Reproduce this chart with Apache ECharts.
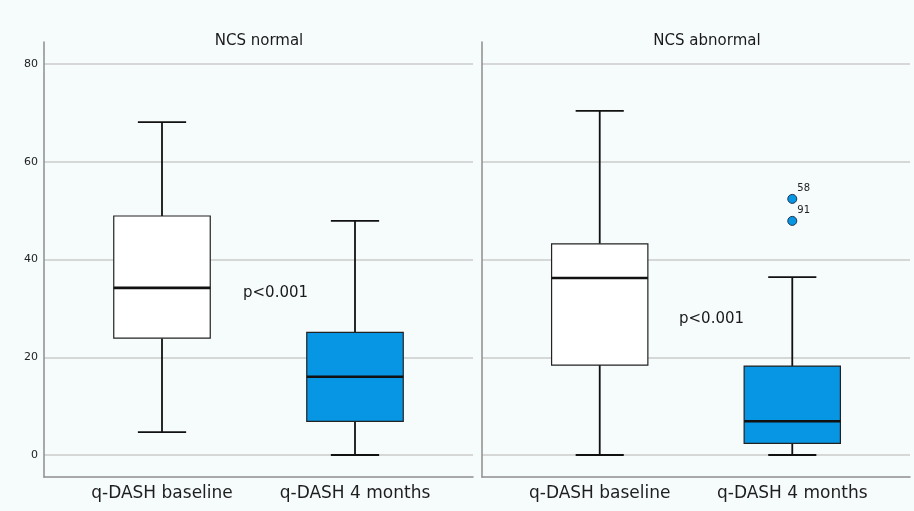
<!DOCTYPE html>
<html>
<head>
<meta charset="utf-8">
<script src="https://cdn.jsdelivr.net/npm/echarts@6/dist/echarts.min.js"></script>
<style>
html,body{margin:0;padding:0;background:#f6fbfc;}
#c{width:914px;height:511px;}
</style>
</head>
<body>
<div id="c"></div>
<script>
// ---- data ----
const categories = ['q-DASH baseline', 'q-DASH 4 months'];
const panelTitles = ['NCS normal', 'NCS abnormal'];
const yTicks = [0, 20, 40, 60, 80];
// [min, Q1, median, Q3, max]
const normalBaseline = [4.7, 23.9, 34.2, 48.9, 68.1];
const normal4Months = [0, 6.9, 16.0, 25.1, 47.9];
const abnormalBaseline = [0, 18.4, 36.2, 43.2, 70.4];
const abnormal4Months = [0, 2.4, 6.9, 18.2, 36.4];
// outliers in NCS abnormal, q-DASH 4 months: [value, case label]
const outlierValues = [52.4, 47.9];
const outlierLabels = ['58', '91'];
const pValueText = ['p<0.001', 'p<0.001'];

// ---- styles ----
const boxFills = ['#ffffff', '#0796e3'];
const fontFam = 'DejaVu Sans';

function boxRows(a, b) {
  return [[0].concat(a), [1].concat(b)];
}

function renderBox(params, api) {
  const x = api.value(0);
  const mn = api.value(1), q1 = api.value(2), md = api.value(3), q3 = api.value(4), mx = api.value(5);
  const c = p => api.coord([x, p]);
  const halfBox = api.size([0.5, 0])[0] / 2;
  const halfCap = halfBox / 2;
  const pMin = c(mn), pQ1 = c(q1), pMd = c(md), pQ3 = c(q3), pMx = c(mx);
  const cx = pMd[0];
  const lineStyle = { stroke: '#111', lineWidth: 1.8 };
  const fill = boxFills[params.dataIndex];
  return {
    type: 'group',
    children: [
      { type: 'line', shape: { x1: cx, y1: pQ3[1], x2: cx, y2: pMx[1] }, style: lineStyle },
      { type: 'line', shape: { x1: cx, y1: pQ1[1], x2: cx, y2: pMin[1] }, style: lineStyle },
      { type: 'line', shape: { x1: cx - halfCap, y1: pMx[1], x2: cx + halfCap, y2: pMx[1] }, style: lineStyle },
      { type: 'line', shape: { x1: cx - halfCap, y1: pMin[1], x2: cx + halfCap, y2: pMin[1] }, style: lineStyle },
      { type: 'rect', shape: { x: cx - halfBox, y: pQ3[1], width: halfBox * 2, height: pQ1[1] - pQ3[1] },
        style: { fill: fill, stroke: '#222', lineWidth: 1.2 } },
      { type: 'line', shape: { x1: cx - halfBox, y1: pMd[1], x2: cx + halfBox, y2: pMd[1] },
        style: { stroke: '#111', lineWidth: 2.6 } }
    ]
  };
}

const chart = echarts.init(document.getElementById('c'), null, { renderer: 'canvas' });

const grids = [
  { left: 44, top: 42, width: 429, height: 435 },
  { left: 482, top: 42, width: 428, height: 435 }
];

function makeX(i) {
  return {
    type: 'value', gridIndex: i, min: -0.6114, max: 1.6114,
    axisLine: { show: true, onZero: false, lineStyle: { color: '#8e8e8e', width: 1.5 } },
    axisTick: { show: false },
    splitLine: { show: false },
    axisLabel: {
      customValues: [0, 1],
      formatter: v => categories[Math.round(v)] || '',
      margin: 8, fontSize: 17, color: '#1e1e1e', fontFamily: fontFam
    }
  };
}
function makeY(i) {
  return {
    type: 'value', gridIndex: i, min: -4.5, max: 84.5,
    axisLine: { show: true, onZero: false, lineStyle: { color: '#8e8e8e', width: 1.5 } },
    axisTick: { show: false },
    splitLine: { show: true, showMinLine: false, showMaxLine: false, lineStyle: { color: '#cbcbcb', width: 1.5 } },
    axisLabel: {
      show: i === 0,
      customValues: yTicks,
      formatter: v => String(v),
      margin: 6, fontSize: 11, color: '#222', fontFamily: fontFam
    }
  };
}

chart.setOption({
  backgroundColor: '#f6fbfc',
  animation: false,
  grid: grids,
  xAxis: [makeX(0), makeX(1)],
  yAxis: [makeY(0), makeY(1)],
  series: [
    { type: 'custom', xAxisIndex: 0, yAxisIndex: 0, renderItem: renderBox,
      encode: { x: 0, y: [1, 2, 3, 4, 5] },
      data: boxRows(normalBaseline, normal4Months) },
    { type: 'custom', xAxisIndex: 1, yAxisIndex: 1, renderItem: renderBox,
      encode: { x: 0, y: [1, 2, 3, 4, 5] },
      data: boxRows(abnormalBaseline, abnormal4Months) },
    { type: 'scatter', xAxisIndex: 1, yAxisIndex: 1,
      symbolSize: 9,
      itemStyle: { color: '#0796e3', borderColor: '#1d3550', borderWidth: 1, opacity: 1 },
      label: { show: true, position: 'right', offset: [-5, -10],
        formatter: p => outlierLabels[p.dataIndex], fontSize: 10, color: '#222', fontFamily: fontFam },
      data: outlierValues.map(v => [1, v]) }
  ],
  graphic: [
    { type: 'text', x: 259, y: 41, style: { text: panelTitles[0], font: '15px "DejaVu Sans"', fill: '#1a1a1a', textAlign: 'center', textVerticalAlign: 'middle' } },
    { type: 'text', x: 707, y: 41, style: { text: panelTitles[1], font: '15px "DejaVu Sans"', fill: '#1a1a1a', textAlign: 'center', textVerticalAlign: 'middle' } },
    { type: 'text', x: 243, y: 293, style: { text: pValueText[0], font: '15px "DejaVu Sans"', fill: '#1a1a1a', textAlign: 'left', textVerticalAlign: 'middle' } },
    { type: 'text', x: 679, y: 319, style: { text: pValueText[1], font: '15px "DejaVu Sans"', fill: '#1a1a1a', textAlign: 'left', textVerticalAlign: 'middle' } }
  ]
});
</script>
</body>
</html>
